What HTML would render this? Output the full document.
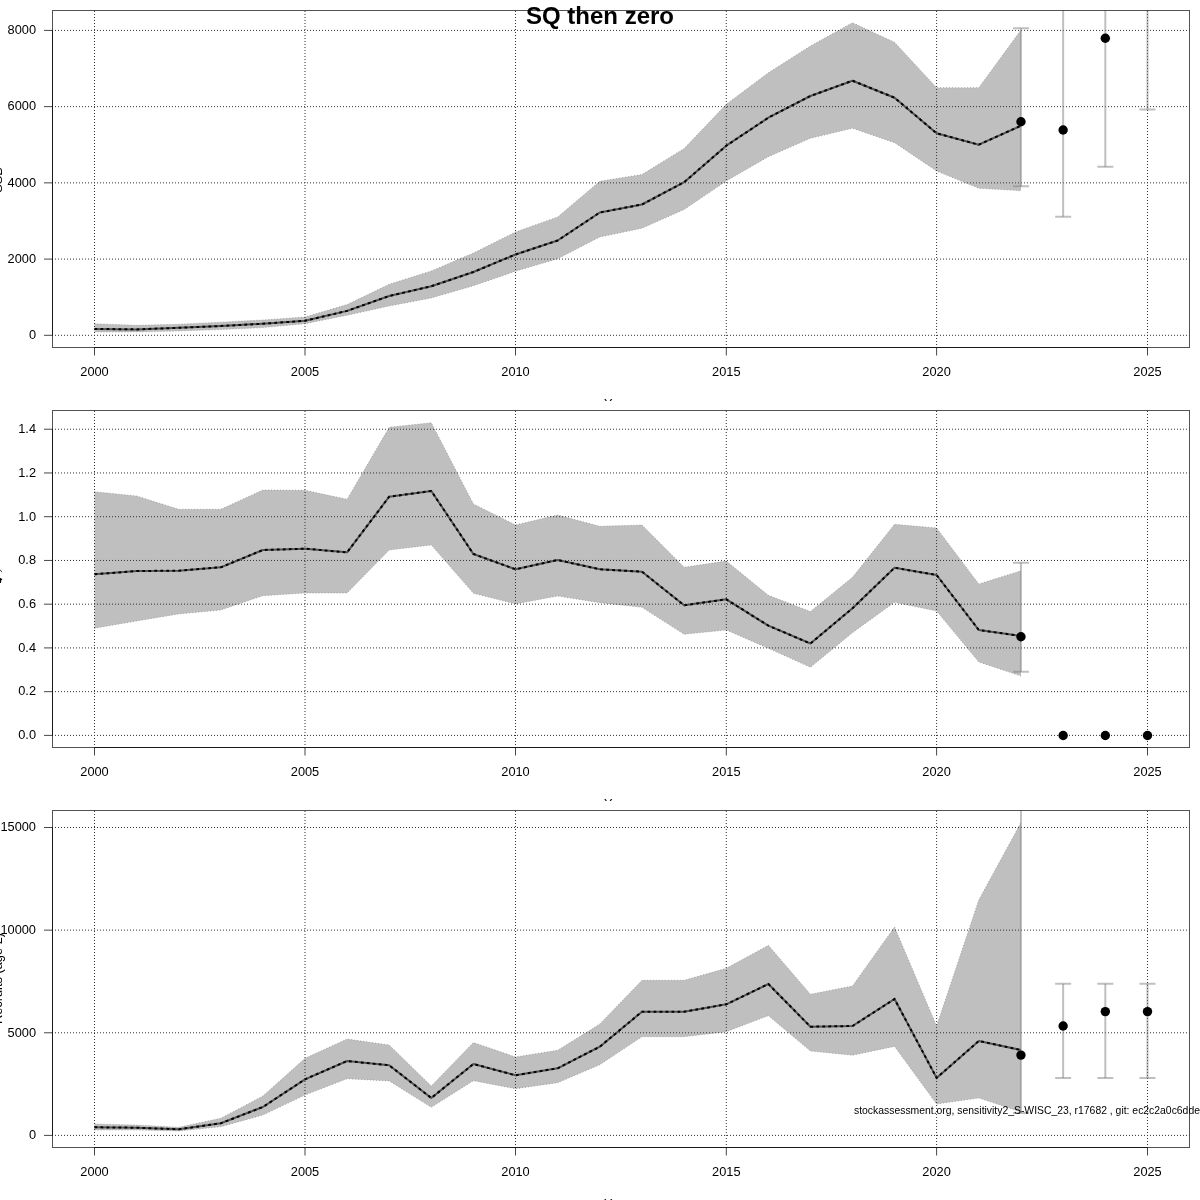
<!DOCTYPE html>
<html><head><meta charset="utf-8"><title>SQ then zero</title>
<style>html,body{margin:0;padding:0;background:#fff;width:1200px;height:1200px;overflow:hidden}svg{display:block;filter:grayscale(1)}</style>
</head><body>
<svg width="1200" height="1200" viewBox="0 0 1200 1200">
<style>
.g{stroke:#333;stroke-width:1;stroke-dasharray:1 2;fill:none}
.l1{stroke:#555;stroke-width:2.0;fill:none;stroke-linejoin:round}
.l2{stroke:#000;stroke-width:2.0;fill:none;stroke-dasharray:2.8 3.2}
.eb{stroke:rgba(128,128,128,0.5);stroke-width:2;fill:none}
.box{fill:none;stroke:#000;stroke-opacity:0.68;stroke-width:1}
.ax{stroke:#000;stroke-opacity:0.68;stroke-width:1}
.tk{stroke:#000;stroke-opacity:0.72;stroke-width:1}
.tl{font-family:"Liberation Sans",sans-serif;font-size:12.8px;fill:#000}
.ti{font-family:"Liberation Sans",sans-serif;font-size:24px;font-weight:bold;fill:#000}
.ft{font-family:"Liberation Sans",sans-serif;font-size:10.4px;fill:#000}
</style>
<rect width="1200" height="1200" fill="#fff"/>
<clipPath id="c0"><rect x="52.5" y="10.5" width="1137.0" height="337.0"/></clipPath>
<g clip-path="url(#c0)">
<polygon points="94.50,323.75 136.60,325.30 178.70,324.20 220.80,322.20 262.90,320.00 305.00,317.00 347.10,304.60 389.20,284.30 431.30,271.00 473.40,253.00 515.50,232.00 557.66,217.00 599.82,181.25 641.98,174.50 684.14,148.50 726.30,104.30 768.36,72.70 810.42,46.00 852.48,22.70 894.54,42.30 936.60,87.70 978.78,87.70 1020.96,30.00 1020.96,190.70 978.78,188.30 936.60,171.00 894.54,142.70 852.48,128.30 810.42,138.30 768.36,156.70 726.30,181.00 684.14,209.50 641.98,228.25 599.82,237.00 557.66,258.75 515.50,271.25 473.40,285.75 431.30,298.00 389.20,306.00 347.10,315.20 305.00,323.75 262.90,327.60 220.80,329.60 178.70,331.00 136.60,332.00 94.50,332.00" fill="#bfbfbf"/><polyline points="94.50,323.75 136.60,325.30 178.70,324.20 220.80,322.20 262.90,320.00 305.00,317.00 347.10,304.60 389.20,284.30 431.30,271.00 473.40,253.00 515.50,232.00 557.66,217.00 599.82,181.25 641.98,174.50 684.14,148.50 726.30,104.30 768.36,72.70 810.42,46.00 852.48,22.70 894.54,42.30 936.60,87.70 978.78,87.70 1020.96,30.00" fill="none" stroke="#888" stroke-width="0.7" stroke-dasharray="1 2"/><polyline points="94.50,332.00 136.60,332.00 178.70,331.00 220.80,329.60 262.90,327.60 305.00,323.75 347.10,315.20 389.20,306.00 431.30,298.00 473.40,285.75 515.50,271.25 557.66,258.75 599.82,237.00 641.98,228.25 684.14,209.50 726.30,181.00 768.36,156.70 810.42,138.30 852.48,128.30 894.54,142.70 936.60,171.00 978.78,188.30 1020.96,190.70" fill="none" stroke="#888" stroke-width="0.7" stroke-dasharray="1 2"/>
<line x1="94.5" y1="11.0" x2="94.5" y2="347.5" class="g"/>
<line x1="305.0" y1="11.0" x2="305.0" y2="347.5" class="g"/>
<line x1="515.5" y1="11.0" x2="515.5" y2="347.5" class="g"/>
<line x1="726.3" y1="11.0" x2="726.3" y2="347.5" class="g"/>
<line x1="936.6" y1="11.0" x2="936.6" y2="347.5" class="g"/>
<line x1="1147.5" y1="11.0" x2="1147.5" y2="347.5" class="g"/>
<line x1="52.0" y1="335.3" x2="1189.5" y2="335.3" class="g"/>
<line x1="52.0" y1="259.08" x2="1189.5" y2="259.08" class="g"/>
<line x1="52.0" y1="182.86" x2="1189.5" y2="182.86" class="g"/>
<line x1="52.0" y1="106.64" x2="1189.5" y2="106.64" class="g"/>
<line x1="52.0" y1="30.42" x2="1189.5" y2="30.42" class="g"/>
<polyline points="94.50,328.90 136.60,329.40 178.70,327.80 220.80,326.00 262.90,323.75 305.00,320.80 347.10,310.90 389.20,296.00 431.30,286.25 473.40,272.00 515.50,254.50 557.66,240.50 599.82,212.50 641.98,204.50 684.14,182.20 726.30,145.70 768.36,117.70 810.42,96.00 852.48,80.70 894.54,97.70 936.60,133.30 978.78,144.70 1020.96,125.70" class="l1"/>
<polyline points="94.50,328.90 136.60,329.40 178.70,327.80 220.80,326.00 262.90,323.75 305.00,320.80 347.10,310.90 389.20,296.00 431.30,286.25 473.40,272.00 515.50,254.50 557.66,240.50 599.82,212.50 641.98,204.50 684.14,182.20 726.30,145.70 768.36,117.70 810.42,96.00 852.48,80.70 894.54,97.70 936.60,133.30 978.78,144.70 1020.96,125.70" class="l2"/>
<line x1="1020.96" y1="28.3" x2="1020.96" y2="186.2" class="eb"/>
<line x1="1012.96" y1="28.3" x2="1028.96" y2="28.3" class="eb"/>
<line x1="1012.96" y1="186.2" x2="1028.96" y2="186.2" class="eb"/>
<line x1="1063.14" y1="0" x2="1063.14" y2="216.7" class="eb"/>
<line x1="1055.14" y1="216.7" x2="1071.14" y2="216.7" class="eb"/>
<line x1="1105.32" y1="0" x2="1105.32" y2="166.8" class="eb"/>
<line x1="1097.32" y1="166.8" x2="1113.32" y2="166.8" class="eb"/>
<line x1="1147.50" y1="0" x2="1147.50" y2="109.5" class="eb"/>
<line x1="1139.50" y1="109.5" x2="1155.50" y2="109.5" class="eb"/>
<circle cx="1020.96" cy="121.7" r="4.7" fill="#000"/>
<circle cx="1063.14" cy="130" r="4.7" fill="#000"/>
<circle cx="1105.32" cy="38.3" r="4.7" fill="#000"/>
</g>
<rect x="52.5" y="10.5" width="1137.0" height="337.0" class="box"/>
<line x1="52.5" y1="335.3" x2="52.5" y2="30.42" class="ax"/>
<line x1="94.5" y1="347.5" x2="1147.5" y2="347.5" class="ax"/>
<line x1="44" y1="335.3" x2="52.5" y2="335.3" class="tk"/>
<text x="36" y="339.1" text-anchor="end" class="tl">0</text>
<line x1="44" y1="259.08" x2="52.5" y2="259.08" class="tk"/>
<text x="36" y="262.88" text-anchor="end" class="tl">2000</text>
<line x1="44" y1="182.86" x2="52.5" y2="182.86" class="tk"/>
<text x="36" y="186.66000000000003" text-anchor="end" class="tl">4000</text>
<line x1="44" y1="106.64" x2="52.5" y2="106.64" class="tk"/>
<text x="36" y="110.44" text-anchor="end" class="tl">6000</text>
<line x1="44" y1="30.42" x2="52.5" y2="30.42" class="tk"/>
<text x="36" y="34.22" text-anchor="end" class="tl">8000</text>
<line x1="94.5" y1="347.5" x2="94.5" y2="355.5" class="tk"/>
<text x="94.5" y="375.5" text-anchor="middle" class="tl">2000</text>
<line x1="305.0" y1="347.5" x2="305.0" y2="355.5" class="tk"/>
<text x="305.0" y="375.5" text-anchor="middle" class="tl">2005</text>
<line x1="515.5" y1="347.5" x2="515.5" y2="355.5" class="tk"/>
<text x="515.5" y="375.5" text-anchor="middle" class="tl">2010</text>
<line x1="726.3" y1="347.5" x2="726.3" y2="355.5" class="tk"/>
<text x="726.3" y="375.5" text-anchor="middle" class="tl">2015</text>
<line x1="936.6" y1="347.5" x2="936.6" y2="355.5" class="tk"/>
<text x="936.6" y="375.5" text-anchor="middle" class="tl">2020</text>
<line x1="1147.5" y1="347.5" x2="1147.5" y2="355.5" class="tk"/>
<text x="1147.5" y="375.5" text-anchor="middle" class="tl">2025</text>
<text transform="translate(2.2,180.0) rotate(-90)" text-anchor="middle" class="tl">SSB</text>
<clipPath id="y0"><rect x="0" y="390" width="1200" height="11"/></clipPath>
<text x="604" y="407.8" clip-path="url(#y0)" class="tl">Years</text>
<clipPath id="c400"><rect x="52.5" y="410.5" width="1137.0" height="337.0"/></clipPath>
<g clip-path="url(#c400)">
<polygon points="94.50,491.70 136.60,496.00 178.70,509.30 220.80,509.30 262.90,490.00 305.00,490.30 347.10,499.30 389.20,427.30 431.30,422.70 473.40,504.00 515.50,525.00 557.66,515.00 599.82,526.30 641.98,525.00 684.14,567.30 726.30,561.00 768.36,595.30 810.42,611.50 852.48,577.30 894.54,524.30 936.60,528.00 978.78,584.00 1020.96,570.70 1020.96,676.00 978.78,662.00 936.60,611.00 894.54,602.30 852.48,632.70 810.42,667.30 768.36,648.30 726.30,630.00 684.14,634.30 641.98,607.30 599.82,602.70 557.66,596.00 515.50,604.00 473.40,593.30 431.30,545.00 389.20,550.00 347.10,593.00 305.00,593.00 262.90,595.70 220.80,610.00 178.70,614.00 136.60,621.00 94.50,628.30" fill="#bfbfbf"/><polyline points="94.50,491.70 136.60,496.00 178.70,509.30 220.80,509.30 262.90,490.00 305.00,490.30 347.10,499.30 389.20,427.30 431.30,422.70 473.40,504.00 515.50,525.00 557.66,515.00 599.82,526.30 641.98,525.00 684.14,567.30 726.30,561.00 768.36,595.30 810.42,611.50 852.48,577.30 894.54,524.30 936.60,528.00 978.78,584.00 1020.96,570.70" fill="none" stroke="#888" stroke-width="0.7" stroke-dasharray="1 2"/><polyline points="94.50,628.30 136.60,621.00 178.70,614.00 220.80,610.00 262.90,595.70 305.00,593.00 347.10,593.00 389.20,550.00 431.30,545.00 473.40,593.30 515.50,604.00 557.66,596.00 599.82,602.70 641.98,607.30 684.14,634.30 726.30,630.00 768.36,648.30 810.42,667.30 852.48,632.70 894.54,602.30 936.60,611.00 978.78,662.00 1020.96,676.00" fill="none" stroke="#888" stroke-width="0.7" stroke-dasharray="1 2"/>
<line x1="94.5" y1="411.0" x2="94.5" y2="747.5" class="g"/>
<line x1="305.0" y1="411.0" x2="305.0" y2="747.5" class="g"/>
<line x1="515.5" y1="411.0" x2="515.5" y2="747.5" class="g"/>
<line x1="726.3" y1="411.0" x2="726.3" y2="747.5" class="g"/>
<line x1="936.6" y1="411.0" x2="936.6" y2="747.5" class="g"/>
<line x1="1147.5" y1="411.0" x2="1147.5" y2="747.5" class="g"/>
<line x1="52.0" y1="735.4" x2="1189.5" y2="735.4" class="g"/>
<line x1="52.0" y1="691.66" x2="1189.5" y2="691.66" class="g"/>
<line x1="52.0" y1="647.92" x2="1189.5" y2="647.92" class="g"/>
<line x1="52.0" y1="604.18" x2="1189.5" y2="604.18" class="g"/>
<line x1="52.0" y1="560.44" x2="1189.5" y2="560.44" class="g"/>
<line x1="52.0" y1="516.7" x2="1189.5" y2="516.7" class="g"/>
<line x1="52.0" y1="472.96" x2="1189.5" y2="472.96" class="g"/>
<line x1="52.0" y1="429.22" x2="1189.5" y2="429.22" class="g"/>
<polyline points="94.50,574.30 136.60,571.00 178.70,570.70 220.80,567.30 262.90,550.00 305.00,548.70 347.10,552.30 389.20,496.70 431.30,491.00 473.40,554.00 515.50,569.30 557.66,560.00 599.82,569.30 641.98,571.70 684.14,605.30 726.30,599.30 768.36,625.70 810.42,643.50 852.48,608.30 894.54,567.70 936.60,575.00 978.78,630.00 1020.96,636.00" class="l1"/>
<polyline points="94.50,574.30 136.60,571.00 178.70,570.70 220.80,567.30 262.90,550.00 305.00,548.70 347.10,552.30 389.20,496.70 431.30,491.00 473.40,554.00 515.50,569.30 557.66,560.00 599.82,569.30 641.98,571.70 684.14,605.30 726.30,599.30 768.36,625.70 810.42,643.50 852.48,608.30 894.54,567.70 936.60,575.00 978.78,630.00 1020.96,636.00" class="l2"/>
<line x1="1020.96" y1="562.7" x2="1020.96" y2="671.7" class="eb"/>
<line x1="1012.96" y1="562.7" x2="1028.96" y2="562.7" class="eb"/>
<line x1="1012.96" y1="671.7" x2="1028.96" y2="671.7" class="eb"/>
<circle cx="1020.96" cy="636.7" r="4.7" fill="#000"/>
<circle cx="1063.14" cy="735.5" r="4.7" fill="#000"/>
<circle cx="1105.32" cy="735.5" r="4.7" fill="#000"/>
<circle cx="1147.50" cy="735.5" r="4.7" fill="#000"/>
</g>
<rect x="52.5" y="410.5" width="1137.0" height="337.0" class="box"/>
<line x1="52.5" y1="735.4" x2="52.5" y2="429.22" class="ax"/>
<line x1="94.5" y1="747.5" x2="1147.5" y2="747.5" class="ax"/>
<line x1="44" y1="735.4" x2="52.5" y2="735.4" class="tk"/>
<text x="36" y="739.1999999999999" text-anchor="end" class="tl">0.0</text>
<line x1="44" y1="691.66" x2="52.5" y2="691.66" class="tk"/>
<text x="36" y="695.4599999999999" text-anchor="end" class="tl">0.2</text>
<line x1="44" y1="647.92" x2="52.5" y2="647.92" class="tk"/>
<text x="36" y="651.7199999999999" text-anchor="end" class="tl">0.4</text>
<line x1="44" y1="604.18" x2="52.5" y2="604.18" class="tk"/>
<text x="36" y="607.9799999999999" text-anchor="end" class="tl">0.6</text>
<line x1="44" y1="560.44" x2="52.5" y2="560.44" class="tk"/>
<text x="36" y="564.24" text-anchor="end" class="tl">0.8</text>
<line x1="44" y1="516.7" x2="52.5" y2="516.7" class="tk"/>
<text x="36" y="520.5" text-anchor="end" class="tl">1.0</text>
<line x1="44" y1="472.96" x2="52.5" y2="472.96" class="tk"/>
<text x="36" y="476.76" text-anchor="end" class="tl">1.2</text>
<line x1="44" y1="429.22" x2="52.5" y2="429.22" class="tk"/>
<text x="36" y="433.02000000000004" text-anchor="end" class="tl">1.4</text>
<line x1="94.5" y1="747.5" x2="94.5" y2="755.5" class="tk"/>
<text x="94.5" y="775.5" text-anchor="middle" class="tl">2000</text>
<line x1="305.0" y1="747.5" x2="305.0" y2="755.5" class="tk"/>
<text x="305.0" y="775.5" text-anchor="middle" class="tl">2005</text>
<line x1="515.5" y1="747.5" x2="515.5" y2="755.5" class="tk"/>
<text x="515.5" y="775.5" text-anchor="middle" class="tl">2010</text>
<line x1="726.3" y1="747.5" x2="726.3" y2="755.5" class="tk"/>
<text x="726.3" y="775.5" text-anchor="middle" class="tl">2015</text>
<line x1="936.6" y1="747.5" x2="936.6" y2="755.5" class="tk"/>
<text x="936.6" y="775.5" text-anchor="middle" class="tl">2020</text>
<line x1="1147.5" y1="747.5" x2="1147.5" y2="755.5" class="tk"/>
<text x="1147.5" y="775.5" text-anchor="middle" class="tl">2025</text>
<path d="M-0.2,569.9 Q1.4,570.2 1.7,572.2" fill="none" stroke="#000" stroke-width="1" stroke-opacity="0.7"/>
<rect x="0" y="578" width="1.1" height="5" fill="#111"/>
<rect x="0" y="578.8" width="2.1" height="1.4" fill="#000"/>
<clipPath id="y400"><rect x="0" y="790" width="1200" height="11"/></clipPath>
<text x="604" y="807.8" clip-path="url(#y400)" class="tl">Years</text>
<clipPath id="c800"><rect x="52.5" y="810.5" width="1137.0" height="337.0"/></clipPath>
<g clip-path="url(#c800)">
<polygon points="94.50,1124.00 136.60,1125.00 178.70,1127.30 220.80,1118.30 262.90,1096.00 305.00,1058.30 347.10,1039.00 389.20,1045.00 431.30,1086.00 473.40,1042.50 515.50,1057.00 557.66,1050.30 599.82,1024.00 641.98,980.30 684.14,980.30 726.30,968.30 768.36,945.30 810.42,994.30 852.48,986.00 894.54,927.00 936.60,1026.00 978.78,900.00 1020.96,822.60 1020.96,1112.00 978.78,1098.00 936.60,1104.00 894.54,1046.40 852.48,1055.20 810.42,1051.00 768.36,1015.70 726.30,1031.70 684.14,1036.70 641.98,1036.70 599.82,1064.70 557.66,1082.70 515.50,1088.70 473.40,1080.70 431.30,1107.30 389.20,1081.00 347.10,1078.70 305.00,1095.00 262.90,1115.00 220.80,1126.70 178.70,1131.00 136.60,1130.00 94.50,1130.00" fill="#bfbfbf"/><polyline points="94.50,1124.00 136.60,1125.00 178.70,1127.30 220.80,1118.30 262.90,1096.00 305.00,1058.30 347.10,1039.00 389.20,1045.00 431.30,1086.00 473.40,1042.50 515.50,1057.00 557.66,1050.30 599.82,1024.00 641.98,980.30 684.14,980.30 726.30,968.30 768.36,945.30 810.42,994.30 852.48,986.00 894.54,927.00 936.60,1026.00 978.78,900.00 1020.96,822.60" fill="none" stroke="#888" stroke-width="0.7" stroke-dasharray="1 2"/><polyline points="94.50,1130.00 136.60,1130.00 178.70,1131.00 220.80,1126.70 262.90,1115.00 305.00,1095.00 347.10,1078.70 389.20,1081.00 431.30,1107.30 473.40,1080.70 515.50,1088.70 557.66,1082.70 599.82,1064.70 641.98,1036.70 684.14,1036.70 726.30,1031.70 768.36,1015.70 810.42,1051.00 852.48,1055.20 894.54,1046.40 936.60,1104.00 978.78,1098.00 1020.96,1112.00" fill="none" stroke="#888" stroke-width="0.7" stroke-dasharray="1 2"/>
<line x1="94.5" y1="811.0" x2="94.5" y2="1147.5" class="g"/>
<line x1="305.0" y1="811.0" x2="305.0" y2="1147.5" class="g"/>
<line x1="515.5" y1="811.0" x2="515.5" y2="1147.5" class="g"/>
<line x1="726.3" y1="811.0" x2="726.3" y2="1147.5" class="g"/>
<line x1="936.6" y1="811.0" x2="936.6" y2="1147.5" class="g"/>
<line x1="1147.5" y1="811.0" x2="1147.5" y2="1147.5" class="g"/>
<line x1="52.0" y1="1135.4" x2="1189.5" y2="1135.4" class="g"/>
<line x1="52.0" y1="1032.77" x2="1189.5" y2="1032.77" class="g"/>
<line x1="52.0" y1="930.13" x2="1189.5" y2="930.13" class="g"/>
<line x1="52.0" y1="827.5" x2="1189.5" y2="827.5" class="g"/>
<polyline points="94.50,1127.30 136.60,1127.70 178.70,1129.30 220.80,1123.30 262.90,1107.00 305.00,1079.30 347.10,1061.00 389.20,1065.30 431.30,1098.00 473.40,1064.00 515.50,1075.30 557.66,1068.30 599.82,1046.70 641.98,1011.70 684.14,1011.70 726.30,1004.30 768.36,984.00 810.42,1026.70 852.48,1026.00 894.54,999.00 936.60,1077.90 978.78,1041.00 1020.96,1050.00" class="l1"/>
<polyline points="94.50,1127.30 136.60,1127.70 178.70,1129.30 220.80,1123.30 262.90,1107.00 305.00,1079.30 347.10,1061.00 389.20,1065.30 431.30,1098.00 473.40,1064.00 515.50,1075.30 557.66,1068.30 599.82,1046.70 641.98,1011.70 684.14,1011.70 726.30,1004.30 768.36,984.00 810.42,1026.70 852.48,1026.00 894.54,999.00 936.60,1077.90 978.78,1041.00 1020.96,1050.00" class="l2"/>
<line x1="1020.96" y1="800" x2="1020.96" y2="1113" class="eb"/>
<line x1="1012.96" y1="1113" x2="1028.96" y2="1113" class="eb"/>
<line x1="1063.14" y1="983.7" x2="1063.14" y2="1077.9" class="eb"/>
<line x1="1055.14" y1="983.7" x2="1071.14" y2="983.7" class="eb"/>
<line x1="1055.14" y1="1077.9" x2="1071.14" y2="1077.9" class="eb"/>
<line x1="1105.32" y1="983.7" x2="1105.32" y2="1077.9" class="eb"/>
<line x1="1097.32" y1="983.7" x2="1113.32" y2="983.7" class="eb"/>
<line x1="1097.32" y1="1077.9" x2="1113.32" y2="1077.9" class="eb"/>
<line x1="1147.50" y1="983.7" x2="1147.50" y2="1077.9" class="eb"/>
<line x1="1139.50" y1="983.7" x2="1155.50" y2="983.7" class="eb"/>
<line x1="1139.50" y1="1077.9" x2="1155.50" y2="1077.9" class="eb"/>
<circle cx="1020.96" cy="1055.1" r="4.7" fill="#000"/>
<circle cx="1063.14" cy="1026" r="4.7" fill="#000"/>
<circle cx="1105.32" cy="1011.6" r="4.7" fill="#000"/>
<circle cx="1147.50" cy="1011.6" r="4.7" fill="#000"/>
</g>
<rect x="52.5" y="810.5" width="1137.0" height="337.0" class="box"/>
<line x1="52.5" y1="1135.4" x2="52.5" y2="827.5" class="ax"/>
<line x1="94.5" y1="1147.5" x2="1147.5" y2="1147.5" class="ax"/>
<line x1="44" y1="1135.4" x2="52.5" y2="1135.4" class="tk"/>
<text x="36" y="1139.2" text-anchor="end" class="tl">0</text>
<line x1="44" y1="1032.77" x2="52.5" y2="1032.77" class="tk"/>
<text x="36" y="1036.57" text-anchor="end" class="tl">5000</text>
<line x1="44" y1="930.13" x2="52.5" y2="930.13" class="tk"/>
<text x="36" y="933.93" text-anchor="end" class="tl">10000</text>
<line x1="44" y1="827.5" x2="52.5" y2="827.5" class="tk"/>
<text x="36" y="831.3" text-anchor="end" class="tl">15000</text>
<line x1="94.5" y1="1147.5" x2="94.5" y2="1155.5" class="tk"/>
<text x="94.5" y="1175.5" text-anchor="middle" class="tl">2000</text>
<line x1="305.0" y1="1147.5" x2="305.0" y2="1155.5" class="tk"/>
<text x="305.0" y="1175.5" text-anchor="middle" class="tl">2005</text>
<line x1="515.5" y1="1147.5" x2="515.5" y2="1155.5" class="tk"/>
<text x="515.5" y="1175.5" text-anchor="middle" class="tl">2010</text>
<line x1="726.3" y1="1147.5" x2="726.3" y2="1155.5" class="tk"/>
<text x="726.3" y="1175.5" text-anchor="middle" class="tl">2015</text>
<line x1="936.6" y1="1147.5" x2="936.6" y2="1155.5" class="tk"/>
<text x="936.6" y="1175.5" text-anchor="middle" class="tl">2020</text>
<line x1="1147.5" y1="1147.5" x2="1147.5" y2="1155.5" class="tk"/>
<text x="1147.5" y="1175.5" text-anchor="middle" class="tl">2025</text>
<text transform="translate(2.2,978.5) rotate(-90)" text-anchor="middle" class="tl">Recruits (age 2)</text>
<clipPath id="y800"><rect x="0" y="1190" width="1200" height="11"/></clipPath>
<text x="604" y="1207.8" clip-path="url(#y800)" class="tl">Years</text>
<text x="600" y="24" text-anchor="middle" class="ti">SQ then zero</text>
<text x="854" y="1113.8" class="ft">stockassessment.org, sensitivity2_S-WISC_23, r17682 , git: ec2c2a0c6dde</text>
</svg>
</body></html>
